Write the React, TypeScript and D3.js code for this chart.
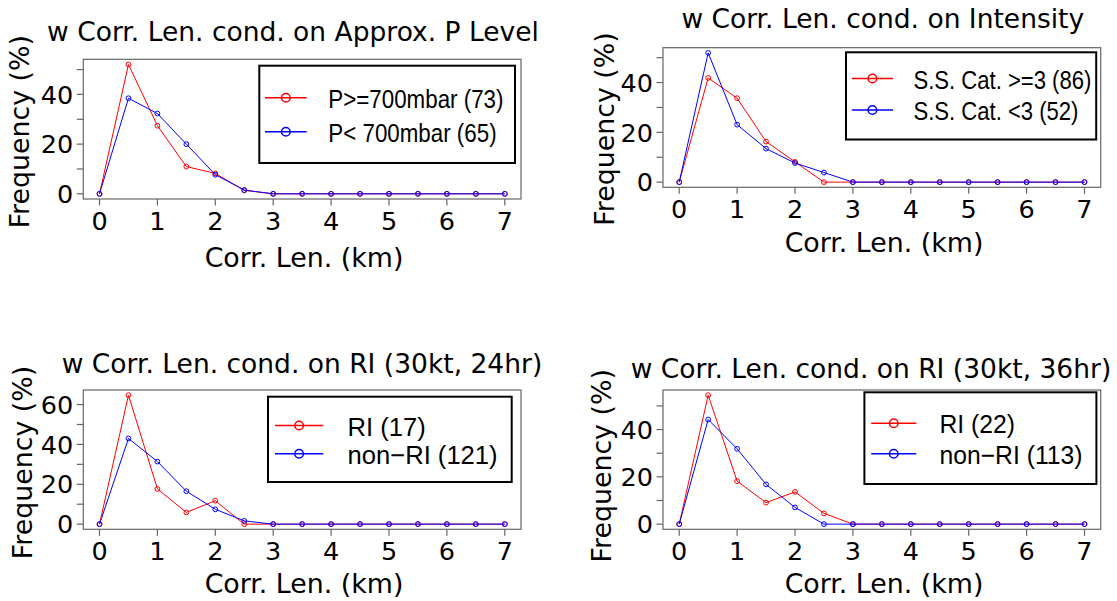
import React from "react";
import * as d3 from "d3";

// ---------- data ----------
const corrLen = [0, 0.5, 1, 1.5, 2, 2.5, 3, 3.5, 4, 4.5, 5, 5.5, 6, 6.5, 7];
const xTicks = [0, 1, 2, 3, 4, 5, 6, 7];

const titles = [
  "w Corr. Len. cond. on Approx. P Level",
  "w Corr. Len. cond. on Intensity",
  "w Corr. Len. cond. on RI (30kt, 24hr)",
  "w Corr. Len. cond. on RI (30kt, 36hr)",
];

const legendRed = ["P>=700mbar (73)", "S.S. Cat. >=3 (86)", "RI (17)", "RI (22)"];
const legendBlue = ["P< 700mbar (65)", "S.S. Cat. <3 (52)", "non\u2212RI (121)", "non\u2212RI (113)"];

const pHigh = [0, 52.05, 27.4, 10.96, 8.22, 1.37, 0, 0, 0, 0, 0, 0, 0, 0, 0];
const pLow = [0, 38.46, 32.31, 20.0, 7.69, 1.54, 0, 0, 0, 0, 0, 0, 0, 0, 0];
const catHigh = [0, 41.86, 33.72, 16.28, 8.14, 0, 0, 0, 0, 0, 0, 0, 0, 0, 0];
const catLow = [0, 51.92, 23.08, 13.46, 7.69, 3.85, 0, 0, 0, 0, 0, 0, 0, 0, 0];
const ri24 = [0, 64.71, 17.65, 5.88, 11.76, 0, 0, 0, 0, 0, 0, 0, 0, 0, 0];
const nonRi24 = [0, 42.98, 31.4, 16.53, 7.44, 1.65, 0, 0, 0, 0, 0, 0, 0, 0, 0];
const ri36 = [0, 54.55, 18.18, 9.09, 13.64, 4.55, 0, 0, 0, 0, 0, 0, 0, 0, 0];
const nonRi36 = [0, 44.25, 31.86, 16.81, 7.08, 0, 0, 0, 0, 0, 0, 0, 0, 0, 0];

const redSeries = [pHigh, catHigh, ri24, ri36];
const blueSeries = [pLow, catLow, nonRi24, nonRi36];

const yTicksA = [0, 10, 20, 30, 40, 50];
const yTicksB = [0, 10, 20, 30, 40, 50, 60];
const yTickSets = [yTicksA, yTicksA, yTicksB, yTicksA];
const yLabelEvery = 20;

// ---------- layout ----------
type Layout = {
  box: [number, number, number, number]; // left, top, right, bottom
  title: [number, number];
  ylab: [number, number];
  xlab: [number, number];
  legend: [number, number, number, number];
  rows: [number, number];
  line: [number, number];
  textX: number;
  lgSize: number;
  lgScale: number;
};

const layouts: Layout[] = [
  {
    box: [83.3, 59.3, 521, 199],
    title: [293, 40.7],
    ylab: [29, 131.7],
    xlab: [304, 266.7],
    legend: [259.3, 65.7, 515, 163],
    rows: [97.7, 131.7],
    line: [265, 306.7],
    textX: 328.3,
    lgSize: 26,
    lgScale: 0.86,
  },
  {
    box: [663, 47.7, 1100.7, 187.3],
    title: [882.8, 28.3],
    ylab: [614, 129],
    xlab: [884, 251.7],
    legend: [846, 52.3, 1096.2, 139.5],
    rows: [78.5, 110],
    line: [851.8, 893],
    textX: 913.4,
    lgSize: 26,
    lgScale: 0.85,
  },
  {
    box: [83.3, 390, 521, 529.3],
    title: [302, 373.3],
    ylab: [32, 462.5],
    xlab: [304, 592.5],
    legend: [268, 396.7, 511.7, 482],
    rows: [425.5, 453.8],
    line: [275, 323.2],
    textX: 347.5,
    lgSize: 25.6,
    lgScale: 1,
  },
  {
    box: [663, 390, 1100.7, 529.3],
    title: [871, 378.3],
    ylab: [611, 465.8],
    xlab: [884, 593],
    legend: [864.4, 392.3, 1096.4, 484],
    rows: [423.3, 453.7],
    line: [871.2, 916.3],
    textX: 939.4,
    lgSize: 25.5,
    lgScale: 0.97,
  },
];

const FONT = "'DejaVu Sans', sans-serif";
const LEGEND_FONT = "'Liberation Sans', Arial, sans-serif";
const RED = "#ff0000";
const BLUE = "#0000ff";
const AXIS = "#666666";
const TITLE_SIZE = 26.5;
const LAB_SIZE = 26.8;
const TICK_SIZE = 25.5;

function Panel({ idx }: { idx: number }) {
  const L = layouts[idx];
  const [bl, bt, br, bb] = L.box;
  const red = redSeries[idx];
  const blue = blueSeries[idx];
  const xExt = d3.extent(corrLen) as [number, number];
  const xPad = (xExt[1] - xExt[0]) * 0.04;
  const x = d3.scaleLinear().domain([xExt[0] - xPad, xExt[1] + xPad]).range([bl, br]);
  const yMax = d3.max([...red, ...blue]) as number;
  const yPad = yMax * 0.04;
  const y = d3.scaleLinear().domain([-yPad, yMax + yPad]).range([bb, bt]);
  const line = d3
    .line<number>()
    .x((_, i) => x(corrLen[i]))
    .y((d) => y(d));

  const series = [
    { vals: red, color: RED },
    { vals: blue, color: BLUE },
  ];
  const [lgL, lgT, lgR, lgB] = L.legend;
  const legendLabels = [legendRed[idx], legendBlue[idx]];
  const legendColors = [RED, BLUE];

  return (
    <g>
      <text x={L.title[0]} y={L.title[1]} textAnchor="middle" fontFamily={FONT} fontSize={TITLE_SIZE} fill="#000">
        {titles[idx]}
      </text>
      <rect x={bl} y={bt} width={br - bl} height={bb - bt} fill="none" stroke={AXIS} strokeWidth={1.2} />
      {/* y ticks */}
      {yTickSets[idx].map((t) => (
        <g key={"y" + t}>
          <line x1={bl - 6.5} x2={bl} y1={y(t)} y2={y(t)} stroke={AXIS} strokeWidth={1.2} />
          {t % yLabelEvery === 0 && (
            <text x={bl - 10} y={y(t) + 9.2} textAnchor="end" fontFamily={FONT} fontSize={TICK_SIZE} fill="#000">
              {t}
            </text>
          )}
        </g>
      ))}
      {/* x ticks */}
      {xTicks.map((t) => (
        <g key={"x" + t}>
          <line x1={x(t)} x2={x(t)} y1={bb} y2={bb + 6.5} stroke={AXIS} strokeWidth={1.2} />
          <text x={x(t)} y={bb + 30.8} textAnchor="middle" fontFamily={FONT} fontSize={TICK_SIZE} fill="#000">
            {t}
          </text>
        </g>
      ))}
      <text x={L.xlab[0]} y={L.xlab[1]} textAnchor="middle" fontFamily={FONT} fontSize={LAB_SIZE} fill="#000">
        Corr. Len. (km)
      </text>
      <text
        transform={`translate(${L.ylab[0]},${L.ylab[1]}) rotate(-90)`}
        textAnchor="middle"
        fontFamily={FONT}
        fontSize={LAB_SIZE}
        fill="#000"
      >
        Frequency (%)
      </text>
      {/* data */}
      {series.map((s, si) => (
        <g key={"s" + si}>
          <path d={line(s.vals) || ""} fill="none" stroke={s.color} strokeWidth={1} />
          {s.vals.map((v, i) => (
            <circle key={i} cx={x(corrLen[i])} cy={y(v)} r={2.4} fill="none" stroke={s.color} strokeWidth={1} />
          ))}
        </g>
      ))}
      {/* legend */}
      <rect x={lgL} y={lgT} width={lgR - lgL} height={lgB - lgT} fill="#fff" stroke="#000" strokeWidth={2} />
      {legendLabels.map((lab, i) => (
        <g key={"l" + i}>
          <line x1={L.line[0]} x2={L.line[1]} y1={L.rows[i]} y2={L.rows[i]} stroke={legendColors[i]} strokeWidth={1.5} />
          <circle
            cx={(L.line[0] + L.line[1]) / 2}
            cy={L.rows[i]}
            r={4.3}
            fill="none"
            stroke={legendColors[i]}
            strokeWidth={1.5}
          />
          <text
            transform={`translate(${L.textX},${L.rows[i] + 10}) scale(${L.lgScale},1)`}
            fontFamily={LEGEND_FONT}
            fontSize={L.lgSize}
            fill="#000"
          >
            {lab}
          </text>
        </g>
      ))}
    </g>
  );
}

export default function App() {
  return (
    <svg
      width={1117}
      height={601}
      style={{ position: "absolute", left: 0, top: 0, background: "#fff" }}
      xmlns="http://www.w3.org/2000/svg"
    >
      <rect x={0} y={0} width={1117} height={601} fill="#fff" />
      {[0, 1, 2, 3].map((i) => (
        <Panel key={i} idx={i} />
      ))}
    </svg>
  );
}
